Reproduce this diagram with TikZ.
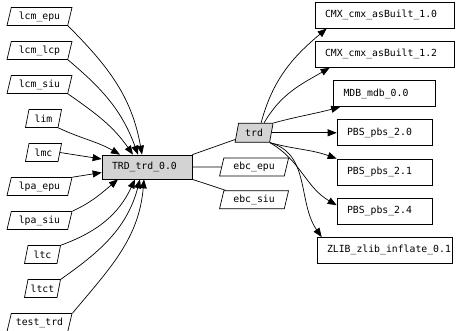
\documentclass[tikz,border=0pt]{standalone}
\usepackage{fontspec}
\setmonofont{DejaVu Sans Mono}
\usepackage{xcolor}
\usepackage{tikz}
\usetikzlibrary{arrows.meta,positioning,shapes.geometric}
\definecolor{gvgray}{HTML}{D3D3D3}

\begin{document}
\begin{tikzpicture}[node distance=15.3pt,font={\ttfamily\fontsize{9.8pt}{11pt}\selectfont},line width=0.7pt]
    \tikzstyle{lib}=[draw,trapezium,trapezium left angle=70,trapezium right angle=110,trapezium stretches body,minimum width=65pt,minimum height=18pt,inner xsep=1pt,inner ysep=1pt,fill=white]
    \tikzstyle{libs}=[lib,minimum width=36pt]
    \tikzstyle{pkg}=[draw,minimum height=26pt,inner xsep=10pt,align=left]
    \tikzstyle{core}=[draw,fill=gvgray,minimum height=24pt,inner xsep=10pt,text width=70pt,align=left]
    \tikzstyle{dep}=[-{Triangle[length=9pt,width=7pt]}]
    \useasboundingbox (0,0) rectangle (461pt,-330pt);
    % using packages
    \node[lib] (lcm_epu) at (39.5pt,-16.5pt) {lcm\_epu};
    \node[lib,below=of lcm_epu] (lcm_lcp) {lcm\_lcp};
    \node[lib,below=of lcm_lcp] (lcm_siu) {lcm\_siu};
    \node[libs,below=of lcm_siu,xshift=4pt] (lim) {lim};
    \node[libs,below=of lim] (lmc) {lmc};
    \node[lib,below=of lmc,xshift=-4pt] (lpa_epu) {lpa\_epu};
    \node[lib,below=of lpa_epu] (lpa_siu) {lpa\_siu};
    \node[libs,below=of lpa_siu,xshift=3pt] (ltc) {ltc};
    \node[libs,below=of ltc] (ltct) {ltct};
    \node[lib,below=of ltct,xshift=-3pt] (test_trd) {test\_trd};
    % the package and its parts
    \node[core] (TRD) at (147pt,-167pt) {TRD\_trd\_0.0};
    \node[lib,minimum width=69pt,right=29pt of TRD] (ebc_epu) {ebc\_epu};
    \node[lib,minimum width=69pt,below=14pt of ebc_epu] (ebc_siu) {ebc\_siu};
    \node[lib,fill=gvgray,minimum width=38pt,minimum height=19pt,above=15pt of ebc_epu] (trd) {trd};
    % used packages
    \node[pkg,text width=75pt,right=65pt of trd] (PBS20) {PBS\_pbs\_2.0};
    \node[pkg,text width=82pt,above=12.5pt of PBS20] (MDB) {MDB\_mdb\_0.0};
    \node[pkg,text width=119pt,above=12.5pt of MDB] (CMX12) {CMX\_cmx\_asBuilt\_1.2};
    \node[pkg,text width=119pt,above=12.5pt of CMX12] (CMX10) {CMX\_cmx\_asBuilt\_1.0};
    \node[pkg,text width=75pt,below=12.5pt of PBS20] (PBS21) {PBS\_pbs\_2.1};
    \node[pkg,text width=75pt,below=12.5pt of PBS21] (PBS24) {PBS\_pbs\_2.4};
    \node[pkg,text width=115pt,below=12.5pt of PBS24] (ZLIB) {ZLIB\_zlib\_inflate\_0.1};
    % edges into TRD
    \draw[dep] (lcm_epu.bottom right corner) to[out=-45,in=100] ([xshift=-5pt]TRD.north);
    \draw[dep] (lcm_lcp.bottom right corner) to[out=-40,in=110] ([xshift=-9pt]TRD.north);
    \draw[dep] (lcm_siu.bottom right corner) to[out=-35,in=125] ([xshift=-14pt]TRD.north);
    \draw[dep] (lim.bottom right corner) to[out=-25,in=150] ([xshift=-27pt]TRD.north);
    \draw[dep] (lmc.east) -- (TRD.170);
    \draw[dep] (lpa_epu.top right corner) -- (TRD.187);
    \draw[dep] (lpa_siu.top right corner) to[out=25,in=-140] ([xshift=-29pt]TRD.south);
    \draw[dep] (ltc.top right corner) to[out=20,in=-115] ([xshift=-12pt]TRD.south);
    \draw[dep] (ltct.top right corner) to[out=35,in=-105] ([xshift=-7pt]TRD.south);
    \draw[dep] (test_trd.top right corner) to[out=50,in=-95] ([xshift=-3pt]TRD.south);
    \draw (TRD.north east) -- (trd);
    \draw (TRD) -- (ebc_epu);
    \draw (TRD.south east) -- (ebc_siu);
    % edges out of trd
    \draw[dep] ([xshift=7pt]trd.north) to[out=75,in=-140] ([xshift=12pt]CMX10.south west);
    \draw[dep] ([xshift=10pt]trd.north) to[out=60,in=-150] ([xshift=15pt]CMX12.south west);
    \draw[dep] (trd.top right corner) to[out=15,in=-165] ([xshift=7pt]MDB.south west);
    \draw[dep] (trd.east) -- (PBS20.west);
    \draw[dep] (trd.bottom right corner) to[out=-15,in=160] (PBS21.north west);
    \draw[dep] (trd.bottom right corner) to[out=-30,in=150] ([yshift=6pt]PBS24.west);
    \draw[dep] (trd.bottom right corner) to[out=-15,in=125] ([xshift=5pt]ZLIB.north west);
  \end{tikzpicture}
\end{document}
